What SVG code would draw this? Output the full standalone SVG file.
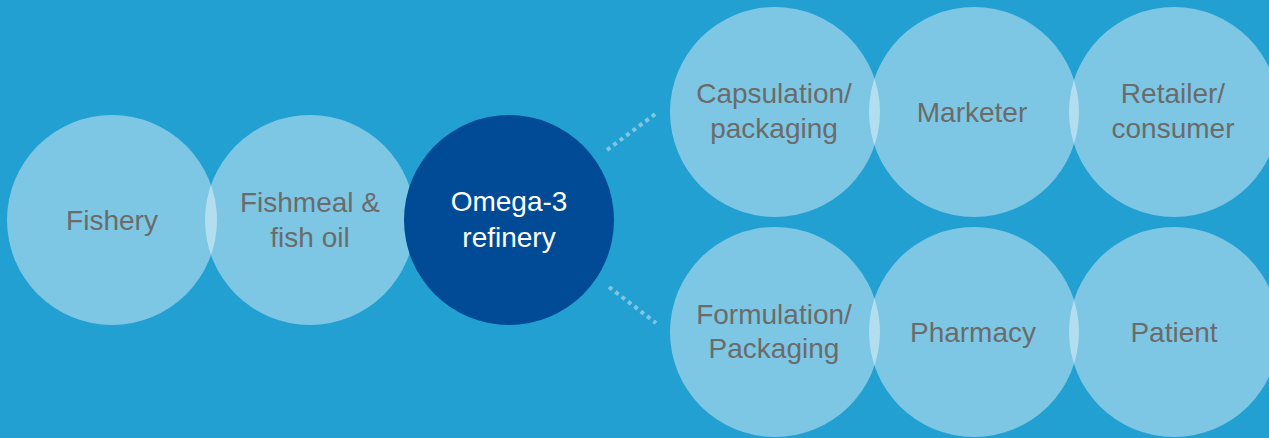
<svg xmlns="http://www.w3.org/2000/svg" width="1269" height="438" viewBox="0 0 1269 438">
<style>
.light{fill:#ffffff;fill-opacity:0.41}
.dark{fill:#004a96}
.t{font-family:"Liberation Sans",Arial,sans-serif;font-size:28px;text-anchor:middle;fill:#6b6b6b}
.tw{fill:#ffffff}
.dot{stroke:#7fc6e4;stroke-width:4;stroke-dasharray:4 4;fill:none}
</style>
<rect x="0" y="0" width="1269" height="438" fill="#22a0d2"/>
<g id="connectors">
<line class="dot" x1="607" y1="150" x2="658" y2="112"/>
<line class="dot" x1="609" y1="287" x2="656" y2="323"/>
</g>
<g id="fishery"><circle class="light" cx="112" cy="220" r="105"/><text class="t" x="112" y="230">Fishery</text></g>
<g id="fishmeal"><circle class="light" cx="310" cy="220" r="105"/><text class="t" x="310" y="212">Fishmeal &amp;</text><text class="t" x="310" y="247">fish oil</text></g>
<g id="omega3"><circle class="dark" cx="509" cy="220" r="105"/><text class="t tw" x="509" y="211">Omega-3</text><text class="t tw" x="509" y="247">refinery</text></g>
<g id="capsulation"><circle class="light" cx="775" cy="112" r="105"/><text class="t" x="774" y="103">Capsulation/</text><text class="t" x="774" y="138">packaging</text></g>
<g id="marketer"><circle class="light" cx="974" cy="112" r="105"/><text class="t" x="972" y="122">Marketer</text></g>
<g id="retailer"><circle class="light" cx="1174" cy="112" r="105"/><text class="t" x="1173" y="103">Retailer/</text><text class="t" x="1173" y="138">consumer</text></g>
<g id="formulation"><circle class="light" cx="775" cy="332" r="105"/><text class="t" x="774" y="324">Formulation/</text><text class="t" x="774" y="358">Packaging</text></g>
<g id="pharmacy"><circle class="light" cx="974" cy="332" r="105"/><text class="t" x="973" y="342">Pharmacy</text></g>
<g id="patient"><circle class="light" cx="1174" cy="332" r="105"/><text class="t" x="1174" y="342">Patient</text></g>
</svg>
